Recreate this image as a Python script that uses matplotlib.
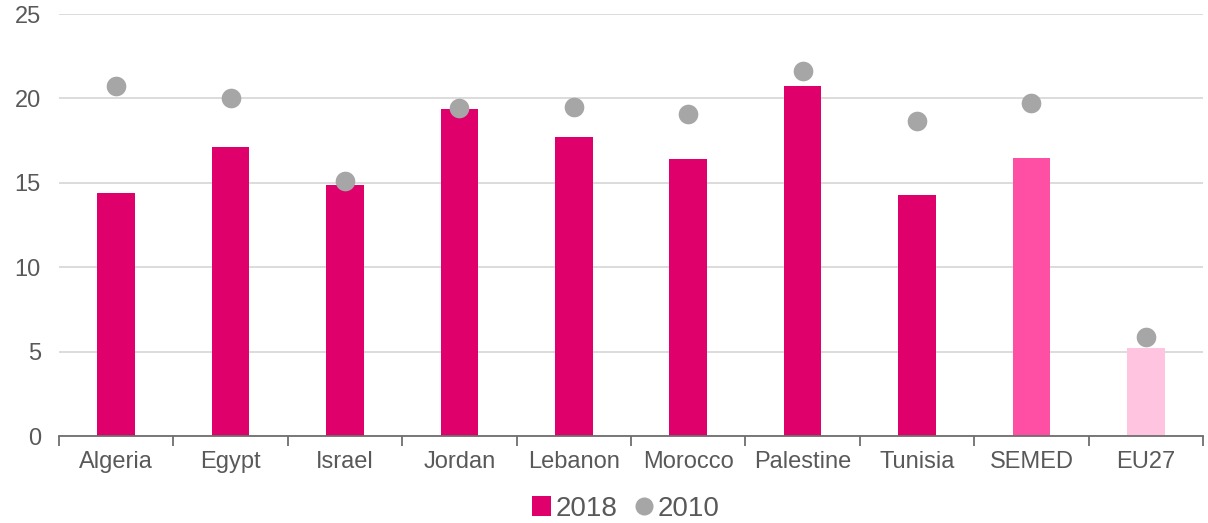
import numpy as np
import matplotlib.pyplot as plt
from matplotlib.lines import Line2D
from matplotlib.patches import Patch

# values
countries = ["Algeria", "Egypt", "Israel", "Jordan", "Lebanon", "Morocco",
             "Palestine", "Tunisia", "SEMED", "EU27"]
values_2018 = [14.4, 17.15, 14.9, 19.37, 17.7, 16.4, 20.73, 14.28, 16.45, 5.21]
values_2010 = [20.75, 20.05, 15.1, 19.43, 19.5, 19.1, 21.62, 18.66, 19.75, 5.86]
bar_colors = ["#E0006B"] * 8 + ["#FF4FA5", "#FFC4DF"]

plt.rcParams['font.family'] = ['Liberation Sans', 'DejaVu Sans']
text_color = "#595959"

fig = plt.figure(figsize=(12.08, 5.23), dpi=100)
ax = fig.add_axes([0.0488, 0.1663, 0.9471, 0.8069])

x = np.arange(len(countries))
ax.bar(x, values_2018, width=0.33, color=bar_colors, zorder=2)
ax.scatter(x, values_2010, s=200, color="#A6A6A6", zorder=3, linewidths=0)

ax.set_xlim(-0.5, len(countries) - 0.5)
ax.set_ylim(0, 25)
ax.set_yticks(range(0, 26, 5))
ax.yaxis.grid(True, color="#D9D9D9", linewidth=1.3, zorder=0)
ax.set_axisbelow(True)

ax.set_xticks(x)
ax.set_xticklabels(countries)
ax.set_xticks(np.arange(-0.5, len(countries), 1.0), minor=True)
ax.tick_params(axis="x", which="major", length=0, pad=11,
               labelsize=17, labelcolor=text_color)
ax.tick_params(axis="x", which="minor", length=7, width=1.3,
               color="#6E6E6E", direction="out")
ax.tick_params(axis="y", length=0, pad=13, labelsize=17, labelcolor=text_color)

for side in ["top", "right", "left"]:
    ax.spines[side].set_visible(False)
ax.spines["bottom"].set_color("#6E6E6E")
ax.spines["bottom"].set_linewidth(1.3)
ax.spines["bottom"].set_zorder(4)

handles = [Patch(facecolor="#E0006B", label="2018"),
           Line2D([], [], marker="o", linestyle="", markersize=13,
                  markerfacecolor="#A6A6A6", markeredgewidth=0, label="2010")]
fig.legend(handles=handles, loc="center", bbox_to_anchor=(0.518, 0.027),
           ncol=2, frameon=False, fontsize=20, labelcolor=text_color,
           handlelength=0.7, handleheight=0.7, handletextpad=0.15,
           columnspacing=0.6)

fig.savefig("out.png", dpi=100)
